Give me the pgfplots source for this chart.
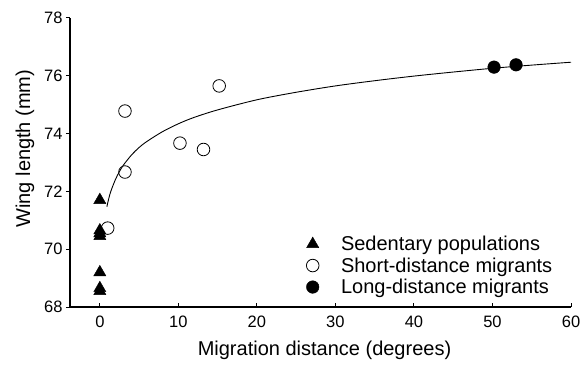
\documentclass[border=0pt]{standalone}
\usepackage{pgfplots}
\pgfplotsset{compat=1.18}
\usepackage{fontspec}
\setmainfont{Liberation Sans}
\begin{document}
\begin{tikzpicture}
\useasboundingbox (-70pt,-60pt) rectangle (515pt,307pt);
\begin{axis}[
  scale only axis, width=501pt, height=289pt,
  xmin=-3.8, xmax=60, ymin=68, ymax=78,
  axis lines=left, axis line style={-, line width=1.3pt},
  xtick={0,10,...,60}, ytick={68,70,...,78},
  tick align=outside, major tick length=4pt,
  tick style={line width=1pt, black},
  x tick style={yshift=4pt},
  /pgf/number format/assume math mode=true,
  tick label style={font=\fontsize{16.5pt}{19pt}\selectfont},
  xticklabel style={yshift=-1pt},
  xlabel={Migration distance (degrees)},
  ylabel={Wing length (mm)},
  xlabel style={font=\fontsize{20pt}{24pt}\selectfont, at={(axis description cs:0.5,0)}, anchor=base, yshift=-48pt, xshift=4pt},
  ylabel style={font=\fontsize{20pt}{24pt}\selectfont, at={(axis description cs:-0.09,0.548)}, anchor=center},
  legend style={at={(axis cs:25.9,70.6)}, anchor=north west, draw=none, fill=none,
    font=\fontsize{20pt}{24pt}\selectfont, row sep=1.5pt, column sep=20pt},
  legend cell align=left,
  clip=false,
]
\addplot[only marks, mark=triangle*, mark size=7pt, black] coordinates {
 (0,71.7) (0,70.65) (0,70.55) (0,70.45) (0,69.2) (0,68.65) (0,68.55)};
\addlegendentry{Sedentary populations}
\addplot[only marks, mark=o, mark size=6.3pt, black, line width=0.8pt] coordinates {
 (1.0,70.73) (3.2,74.78) (3.2,72.67) (10.2,73.67) (13.2,73.45) (15.2,75.65)};
\addlegendentry{Short-distance migrants}
\addplot[only marks, mark=*, mark size=6.3pt, black] coordinates {
 (50.2,76.3) (53.0,76.38)};
\addlegendentry{Long-distance migrants}
\addplot[black, line width=0.9pt, smooth, forget plot] coordinates {
 (0.9,71.47) (1,71.6) (1.25,71.87) (1.5,72.08) (2,72.42) (2.5,72.69) (3,72.91) (4,73.25)
 (5,73.52) (6,73.73) (8,74.07) (10,74.34) (12,74.56) (15,74.82) (20,75.17)
 (25,75.43) (30,75.65) (35,75.83) (40,75.99) (45,76.13) (50,76.26) (55,76.37) (60,76.47)};
\end{axis}
\end{tikzpicture}
\end{document}
